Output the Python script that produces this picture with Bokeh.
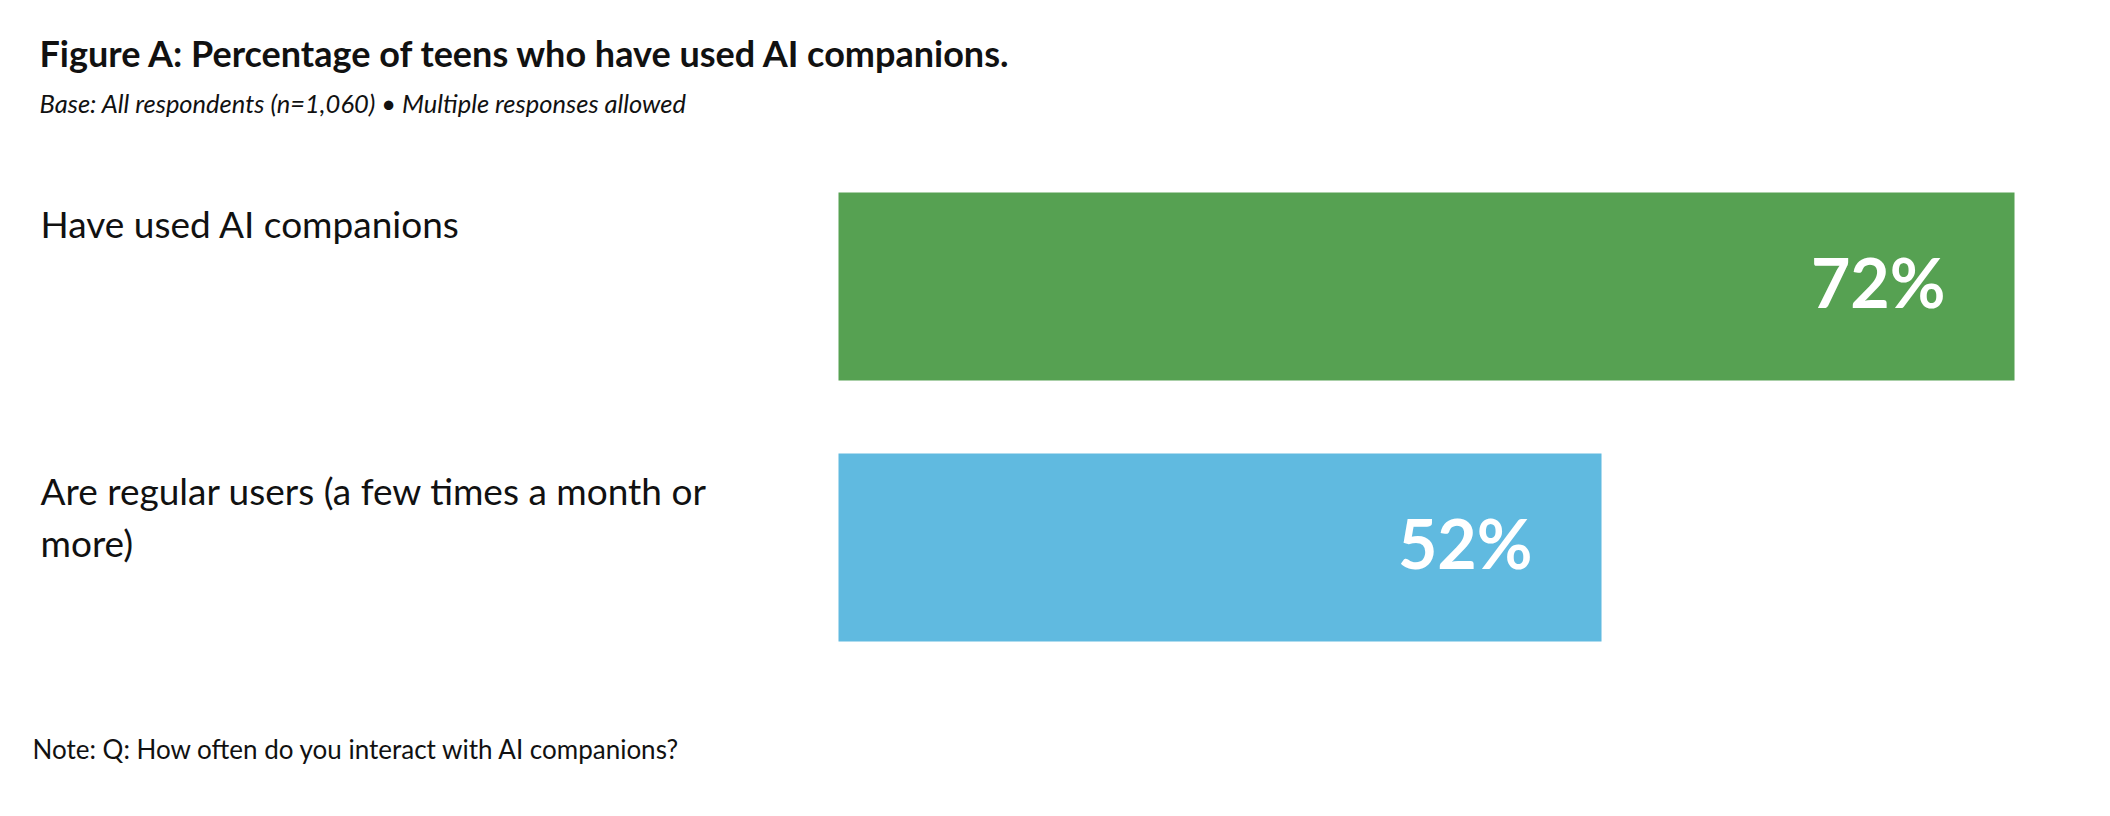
from bokeh.plotting import figure
from bokeh.models import Range1d, Label, ColumnDataSource
from bokeh.core.properties import value
from bokeh.embed import file_html
from bokeh.resources import INLINE

# ---- data ----
categories = ["Have used AI companions", "Are regular users (a few times a month or\nmore)"]
percent = [72, 52]
value_labels = ["72%", "52%"]
bar_colors = ["#56A152", "#60BAE0"]
title_text = "Figure A: Percentage of teens who have used AI companions."
subtitle_text = "Base: All respondents (n=1,060) \u2022 Multiple responses allowed"
note_text = "Note: Q: How often do you interact with AI companions?"

# ---- geometry (pixels) ----
W, H = 2094, 800
AXIS_MIN = 15.05        # value-axis baseline (bars start here)
BASE_PX = 838           # pixel of the baseline
PXU = 20.65             # pixels per percentage point
ROW0_CENTER, PYU = 286, 261
BAR_H = 188 / PYU

x_start = AXIS_MIN - BASE_PX / PXU
x_end = x_start + W / PXU
y_end = 1 + ROW0_CENTER / PYU
y_start = y_end - H / PYU


def dx(px):
    return x_start + px / PXU


def dy(py):
    return y_end - py / PYU


p = figure(width=W, height=H, output_backend="svg", toolbar_location=None,
           x_range=Range1d(x_start, x_end), y_range=Range1d(y_start, y_end),
           min_border=0)
p.axis.visible = False
p.grid.visible = False
p.outline_line_color = None
p.background_fill_color = "white"
p.border_fill_color = "white"

ypos = [len(categories) - 1 - i for i in range(len(categories))]
src = ColumnDataSource(dict(y=ypos, right=percent, color=bar_colors, lab=value_labels))
p.hbar(y="y", left=AXIS_MIN, right="right", height=BAR_H, color="color",
       line_color=None, source=src)
p.text(x="right", y="y", text="lab", source=src, x_offset=-69, y_offset=-5,
       text_align="right", text_baseline="middle", text_color="white",
       text_font=value("Lato"), text_font_style="bold", text_font_size="68px")

FONT = "Lato"
INK = "#111111"
p.add_layout(Label(x=dx(39), y=dy(52), text=title_text, text_font=FONT,
                   text_font_style="bold", text_font_size="36px", text_color=INK,
                   text_baseline="middle"))
p.add_layout(Label(x=dx(39), y=dy(102), text=subtitle_text, text_font=FONT,
                   text_font_style="italic", text_font_size="25.5px", text_color=INK,
                   text_baseline="middle"))
label_first_line = [223, 490]
LINE_GAP = 52
for cat, c in zip(categories, label_first_line):
    for k, line in enumerate(cat.split("\n")):
        p.add_layout(Label(x=dx(40), y=dy(c + k * LINE_GAP), text=line, text_font=FONT,
                           text_font_size="37px", text_color=INK,
                           text_baseline="middle"))
p.add_layout(Label(x=dx(32), y=dy(748), text=note_text, text_font=FONT,
                   text_font_size="26px", text_color=INK,
                   text_baseline="middle"))

open("out.html", "w").write(file_html(p, INLINE))
